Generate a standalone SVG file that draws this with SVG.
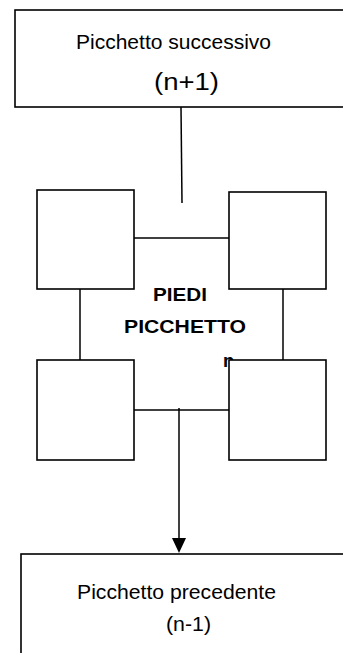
<svg xmlns="http://www.w3.org/2000/svg" width="343" height="653" viewBox="0 0 343 653">
<style>
.box{fill:#fff;stroke:#000;stroke-width:1.6}
.ln{stroke:#000;stroke-width:1.5;fill:none}
.t{font-family:"Liberation Sans",Arial,sans-serif;fill:#000}
.b{font-weight:bold}
</style>
<rect width="343" height="653" fill="#fff"/>
<g id="successivo">
<rect class="box" x="15" y="10" width="340" height="97"/>
<text class="t" x="76" y="49" font-size="19.5" textLength="195" lengthAdjust="spacingAndGlyphs">Picchetto successivo</text>
<text class="t" x="154" y="90" font-size="23" textLength="65" lengthAdjust="spacingAndGlyphs">(n+1)</text>
</g>
<g id="piedi-label">
<text class="t b" x="153" y="301" font-size="18.5" textLength="54" lengthAdjust="spacingAndGlyphs">PIEDI</text>
<text class="t b" x="124" y="333" font-size="18.5" textLength="122" lengthAdjust="spacingAndGlyphs">PICCHETTO</text>
<text class="t b" x="223" y="367" font-size="18.5">n</text>
</g>
<g id="connectors">
<line class="ln" x1="181" y1="107" x2="182" y2="203"/>
<line class="ln" x1="134" y1="238" x2="229" y2="238"/>
<line class="ln" x1="80" y1="289" x2="80" y2="360"/>
<line class="ln" x1="283" y1="289" x2="283" y2="360"/>
<line class="ln" x1="134" y1="410" x2="229" y2="410"/>
<line class="ln" x1="179" y1="408" x2="179" y2="539"/>
<polygon points="172,538 186,538 179,553" fill="#000"/>
</g>
<g id="piede-tl"><rect class="box" x="37" y="190" width="97" height="99"/></g>
<g id="piede-tr"><rect class="box" x="229" y="192" width="97" height="97"/></g>
<g id="piede-bl"><rect class="box" x="37" y="360" width="97" height="100"/></g>
<g id="piede-br"><rect class="box" x="229" y="360" width="97" height="100"/></g>
<g id="precedente">
<rect class="box" x="21" y="554" width="335" height="110"/>
<text class="t" x="77" y="599" font-size="20" textLength="199" lengthAdjust="spacingAndGlyphs">Picchetto precedente</text>
<text class="t" x="166" y="631" font-size="20" textLength="45" lengthAdjust="spacingAndGlyphs">(n-1)</text>
</g>
</svg>
